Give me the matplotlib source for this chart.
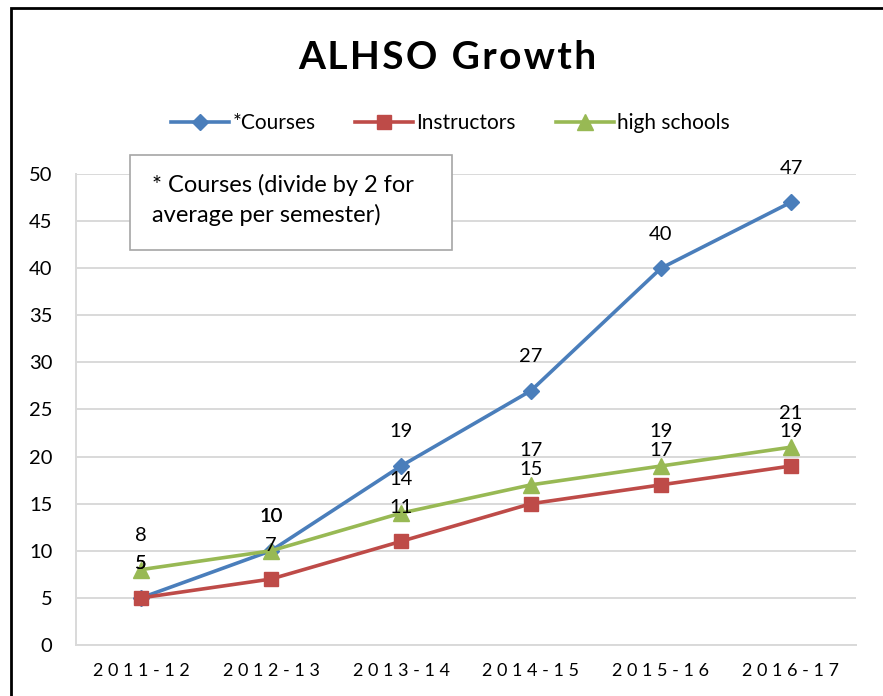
import matplotlib.pyplot as plt
from matplotlib.patches import Rectangle

plt.rcParams['font.family'] = ['Lato', 'DejaVu Sans']

years = ['2011-12', '2012-13', '2013-14', '2014-15', '2015-16', '2016-17']
courses = [5, 10, 19, 27, 40, 47]
instructors = [5, 7, 11, 15, 17, 19]
high_schools = [8, 10, 14, 17, 19, 21]

fig = plt.figure(figsize=(8.83, 6.96), dpi=100)
ax = fig.add_axes([0.0861, 0.0733, 0.8833, 0.6767])

x = list(range(len(years)))
series = [
    ('*Courses', courses, '#4a7ebb', 'D', 8),
    ('Instructors', instructors, '#be4b48', 's', 10),
    ('high schools', high_schools, '#98b954', '^', 11),
]
for name, vals, col, mk, ms in series:
    ax.plot(x, vals, color=col, lw=2.6, marker=mk, markersize=ms,
            markeredgecolor=col, label=name, zorder=3)
    for xi, v in zip(x, vals):
        ax.annotate(str(v), (xi, v), xytext=(0, 24.5), textcoords='offset points',
                    ha='center', va='center', fontsize=14.5, color='black', zorder=4)

ax.set_xlim(-0.5, 5.5)
ax.set_ylim(0, 50)
ax.set_yticks(range(0, 51, 5))
ax.set_xticks(x)
ax.set_xticklabels([' '.join(y) for y in years], fontsize=13)
ax.tick_params(axis='y', length=0, pad=17, labelsize=14.5)
ax.tick_params(axis='x', length=0, pad=13)
ax.grid(axis='y', color='#d9d9d9', lw=1.4)
ax.set_axisbelow(True)
for s in ['top', 'right']:
    ax.spines[s].set_visible(False)
for s in ['left', 'bottom']:
    ax.spines[s].set_color('#d9d9d9')
    ax.spines[s].set_linewidth(1.4)

fig.text(0.507, 0.918, '\u200a'.join('ALHSO Growth'), ha='center', va='center',
         fontsize=28, fontweight='bold')

fig.legend(loc='center', bbox_to_anchor=(0.51, 0.823), ncol=3, frameon=False,
           fontsize=15, handlelength=2.8, columnspacing=1.9, handletextpad=0.15)

box = Rectangle((130 / 883, 1 - 250 / 696), 322 / 883, 95 / 696,
                transform=fig.transFigure, facecolor='white', edgecolor='#a6a6a6',
                lw=1.2, zorder=5)
fig.add_artist(box)
fig.text(152 / 883, 1 - 200 / 696, '* Courses (divide by 2 for\naverage per semester)',
         ha='left', va='center', fontsize=17, linespacing=1.4, zorder=6)

fig.add_artist(Rectangle((11 / 883, -0.5), 2, 0.9885 + 0.5, transform=fig.transFigure,
                         facecolor='none', edgecolor='black', lw=2))

fig.savefig('out.png', dpi=100)
